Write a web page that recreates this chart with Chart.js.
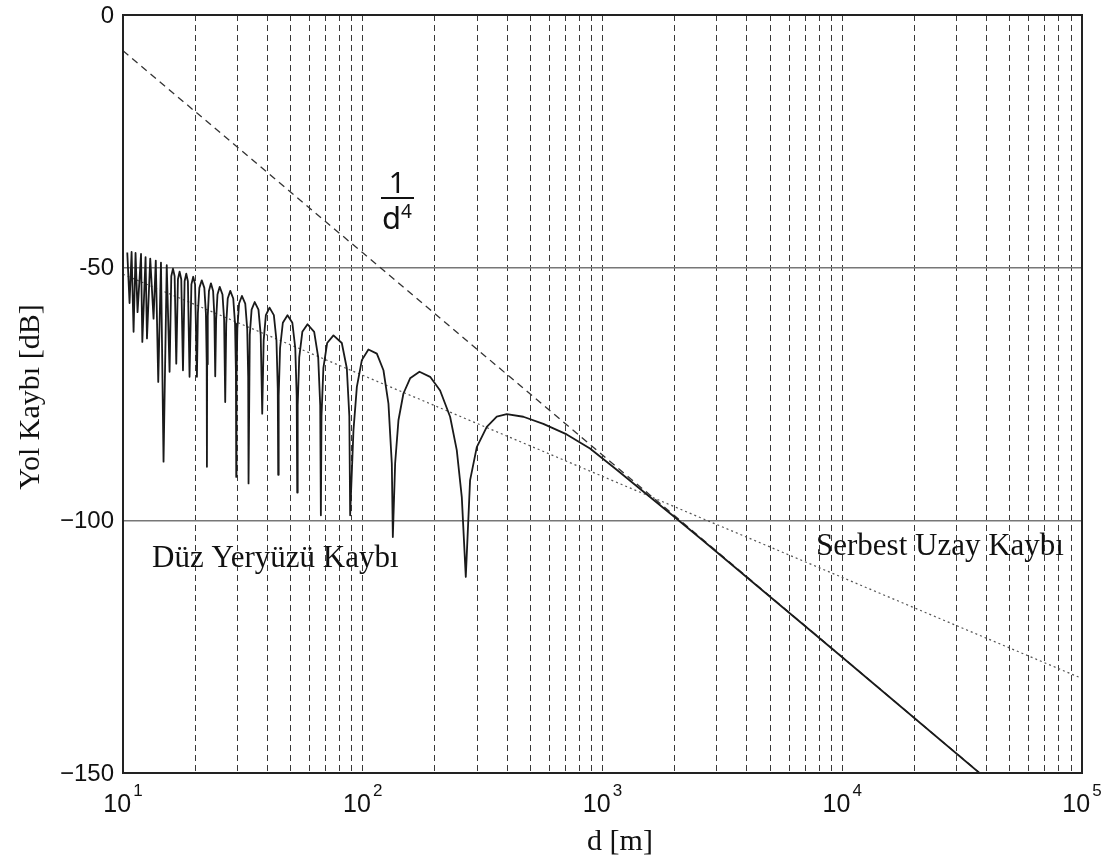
<!DOCTYPE html>
<html>
<head>
<meta charset="utf-8">
<script src="https://cdn.jsdelivr.net/npm/chart.js@4.4.1/dist/chart.umd.min.js"></script>
<style>
  html, body { margin: 0; padding: 0; background: #fff; }
  #wrap { width: 1110px; height: 858px; }
</style>
</head>
<body>
<div id="wrap"><canvas id="chart" width="1110" height="858"></canvas></div>
<script>
// Two-ray (flat earth) loss: d [m] and loss [dB]
const groundDist = [
  10.42, 10.65, 10.86, 11.07, 11.28, 11.50, 11.89, 12.04, 12.42, 12.59,
  12.99, 13.41, 13.70, 14.03, 14.40, 14.76, 15.22, 15.64,
  15.90, 16.16, 16.42, 16.68,
  16.95, 17.22, 17.50, 17.79,
  18.07, 18.36, 18.65, 18.95,
  19.29, 19.63, 19.98, 20.34,
  20.53, 20.82, 21.31, 21.84, 22.17, 22.34, 22.39,
  22.44, 22.57, 22.83, 23.27, 23.76, 24.05, 24.25,
  24.46, 24.78, 25.32, 26.00, 26.41, 26.69,
  26.95, 27.34, 28.02, 28.83, 29.33, 29.58, 29.67,
  29.75, 29.99, 30.49, 31.33, 32.35, 32.97, 33.28, 33.39,
  33.79, 34.39, 35.43, 36.73, 37.53, 38.08,
  38.61, 39.44, 40.85, 42.58, 43.66, 44.21, 44.40,
  44.60, 45.20, 46.42, 48.54, 50.86, 52.30, 53.02, 53.29,
  53.54, 54.34, 55.98, 58.83, 62.72, 65.18, 66.46, 66.89,
  67.29, 68.51, 71.06, 75.48, 81.78, 85.81, 87.91, 88.61,
  91.46, 94.50, 99.14, 105.6, 114.5, 122.0, 128.0, 132.2, 133.5,
  136.5, 140.9, 147.8, 157.6, 172.4, 191.0, 210.2, 231.4, 246.7, 258.9, 269.0,
  280.3, 299.0, 329.1, 362.2, 398.7, 467.6, 566.5, 709.2, 887.0, 1146, 1479, 2038, 2549,
  10000, 100000
];
const groundLoss = [
  -47.0, -57.0, -46.9, -62.7, -47.1, -58.8, -47.3, -64.7, -47.9, -64.0,
  -48.2, -60.1, -48.6, -72.6, -49.0, -88.4, -49.5, -70.6,
  -51.7, -50.2, -51.7, -69.0,
  -52.3, -50.8, -52.3, -70.3,
  -52.7, -51.2, -52.7, -71.6,
  -53.3, -51.8, -53.3, -71.6,
  -59.0, -54.0, -52.5, -54.0, -59.0, -68.5, -89.4,
  -69.1, -59.6, -54.6, -53.1, -54.6, -59.6, -71.5,
  -60.3, -55.3, -53.8, -55.3, -60.3, -76.6,
  -61.1, -56.1, -54.6, -56.1, -61.1, -70.6, -91.4,
  -71.6, -62.1, -57.1, -55.6, -57.1, -62.1, -71.6, -92.7,
  -63.3, -58.3, -56.8, -58.3, -63.3, -78.9,
  -64.4, -59.4, -57.9, -59.4, -64.4, -73.9, -91.0,
  -75.4, -65.9, -60.9, -59.4, -60.9, -65.9, -75.4, -94.5,
  -77.2, -67.7, -62.7, -61.2, -62.7, -67.7, -77.2, -99.0,
  -79.4, -69.9, -64.9, -63.4, -64.9, -69.9, -79.4, -99.0,
  -82.2, -73.6, -68.3, -66.2, -67.0, -70.3, -76.9, -88.8, -103.3,
  -88.7, -80.2, -74.9, -71.9, -70.6, -71.6, -74.3, -79.5, -86.1, -95.4, -111.2,
  -92.1, -85.5, -81.5, -79.5, -79.0, -79.5, -80.9, -83.0, -85.8, -90.0, -94.3, -99.7, -103.5,
  -127.1, -167.1
];

// 1/d^4 asymptote (dashed) and free space loss (dotted)
const d4Dist = [10, 100000];
const d4Loss = [-7.07, -167.07];
const freeDist = [10, 100000];
const freeLoss = [-51.3, -131.3];

// axes
const decades = [10, 100, 1000, 10000, 100000];
const decadeExp = ['1', '2', '3', '4', '5'];
const yTicks = [0, -50, -100, -150];
const yTickLabels = ['0', '-50', '\u2212100', '\u2212150'];

const xGridValues = [];
decades.slice(0, -1).forEach(dec => {
  for (let m = 1; m < 10; m++) xGridValues.push(dec * m);
});
xGridValues.push(100000);

const toPoints = (xs, ys) => xs.map((x, i) => ({ x: x, y: ys[i] }));

const SANS = '"Liberation Sans", Arial, Helvetica, sans-serif';
const SERIF = '"Liberation Serif", "Times New Roman", serif';

const decorations = {
  id: 'decorations',
  afterDraw(chart) {
    const { ctx, chartArea: a, scales: { x, y } } = chart;
    ctx.save();

    // frame
    ctx.strokeStyle = '#222';
    ctx.lineWidth = 2;
    ctx.strokeRect(a.left, a.top, a.right - a.left, a.bottom - a.top);

    ctx.fillStyle = '#111';

    // y tick labels
    ctx.font = '24px ' + SANS;
    ctx.textAlign = 'right';
    ctx.textBaseline = 'middle';
    yTicks.forEach((v, i) => ctx.fillText(yTickLabels[i], a.left - 9, y.getPixelForValue(v) + 1));

    // x tick labels, 10 with superscript exponent
    ctx.textBaseline = 'alphabetic';
    ctx.textAlign = 'left';
    decades.forEach((v, i) => {
      const px = x.getPixelForValue(v);
      ctx.font = '25px ' + SANS;
      const wBase = ctx.measureText('10').width;
      ctx.font = '17px ' + SANS;
      const wExp = ctx.measureText(decadeExp[i]).width;
      const left = px - (wBase + wExp) / 2 - 1;
      ctx.font = '25px ' + SANS;
      ctx.fillText('10', left, 812);
      ctx.font = '17px ' + SANS;
      ctx.fillText(decadeExp[i], left + wBase + 2, 796);
    });

    // axis titles
    ctx.font = '30px ' + SERIF;
    ctx.textAlign = 'center';
    ctx.fillText('d [m]', 620, 850);
    ctx.save();
    ctx.translate(31, 397);
    ctx.rotate(-Math.PI / 2);
    ctx.textBaseline = 'middle';
    ctx.fillText('Yol Kaybı [dB]', 0, 0);
    ctx.restore();

    // curve names
    ctx.font = '31px ' + SERIF;
    ctx.textAlign = 'left';
    ctx.fillText('Düz Yeryüzü Kaybı', 152, 567);
    ctx.fillText('Serbest Uzay Kaybı', 816, 555);

    // 1/d^4 fraction
    ctx.font = '29px "Noto Sans", sans-serif';
    ctx.textAlign = 'center';
    ctx.fillText('1', 397, 193);
    ctx.fillRect(381, 197, 33, 2);
    ctx.textAlign = 'left';
    ctx.font = '31px "Noto Sans", sans-serif';
    ctx.fillText('d', 382, 229);
    ctx.font = '19px "Noto Sans", sans-serif';
    ctx.fillText('4', 401, 218);

    ctx.restore();
  }
};

new Chart(document.getElementById('chart'), {
  type: 'scatter',
  data: {
    datasets: [
      {
        data: toPoints(groundDist, groundLoss),
        showLine: true,
        borderColor: '#1a1a1a',
        borderWidth: 1.8,
        borderJoinStyle: 'round',
        pointRadius: 0,
        tension: 0
      },
      {
        data: toPoints(d4Dist, d4Loss),
        showLine: true,
        borderColor: '#333',
        borderWidth: 1.3,
        borderDash: [7, 5],
        pointRadius: 0
      },
      {
        data: toPoints(freeDist, freeLoss),
        showLine: true,
        borderColor: '#555',
        borderWidth: 1.2,
        borderDash: [2, 3],
        pointRadius: 0
      }
    ]
  },
  options: {
    responsive: false,
    animation: false,
    layout: { padding: { left: 123, right: 28, top: 15, bottom: 85 } },
    plugins: {
      legend: { display: false },
      tooltip: { enabled: false }
    },
    scales: {
      x: {
        type: 'logarithmic',
        min: 10,
        max: 100000,
        afterBuildTicks: scale => { scale.ticks = xGridValues.map(v => ({ value: v })); },
        ticks: { display: false },
        grid: { color: '#3a3a3a', lineWidth: 1, drawTicks: false },
        border: { display: false, dash: [6, 4] }
      },
      y: {
        min: -150,
        max: 0,
        afterBuildTicks: scale => { scale.ticks = yTicks.map(v => ({ value: v })); },
        ticks: { display: false },
        grid: { color: '#777', lineWidth: 1.5, drawTicks: false },
        border: { display: false }
      }
    }
  },
  plugins: [decorations]
});
</script>
</body>
</html>
